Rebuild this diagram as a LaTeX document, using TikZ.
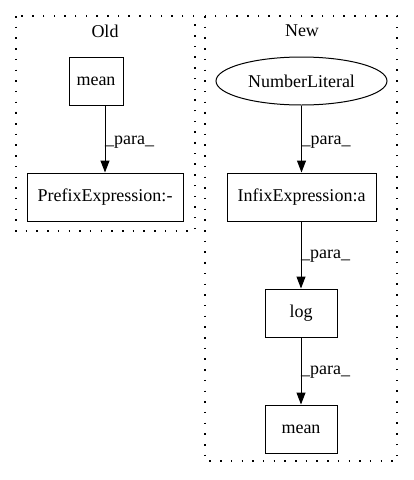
\documentclass[tikz,border=0pt]{standalone}
\usepackage{fontspec}
\setmainfont{Liberation Serif}
\usetikzlibrary{arrows.meta,shapes.geometric}
\begin{document}
\begin{tikzpicture}[x=1pt,y=-1pt,
  every node/.style={font=\fontsize{18}{21}\selectfont},
  box/.style={draw,line width=1pt,rectangle,inner sep=0pt},
  oval/.style={draw,line width=1pt,ellipse,inner sep=0pt},
  cluster/.style={draw,line width=1.4pt,dash pattern=on 1.5pt off 9.2pt},
  edge/.style={line width=1pt,-{Triangle[length=12pt,width=9pt]}},
  lbl/.style={anchor=west,inner sep=0pt}]
\useasboundingbox (0,0) rectangle (413,480);
\draw[cluster] (16,16) rectangle (195,231);
\draw[cluster] (205,16) rectangle (397,461);
\node (oldlbl) at (105,31) {Old};
\node (newlbl) at (302,31) {New};
\node[box,minimum width=54pt,minimum height=48pt] (mean1) at (96,81) {mean};
\node[box,minimum width=156pt,minimum height=48pt] (prefix) at (105,197) {PrefixExpression:-};
\node[oval,minimum width=171pt,minimum height=48pt] (num) at (301.5,81) {NumberLiteral};
\node[box,minimum width=149pt,minimum height=48pt] (infix) at (301.5,197) {InfixExpression:a};
\node[box,minimum width=72pt,minimum height=48pt] (log) at (301,313) {log};
\node[box,minimum width=72pt,minimum height=48pt] (mean2) at (301,429) {mean};
\draw[edge] (mean1.south -| prefix.north) -- (prefix.north);
\draw[edge] (num.south) -- (infix.north);
\draw[edge] (infix.south -| log.north) -- (log.north);
\draw[edge] (log.south) -- (mean2.north);
\node[lbl] (l1) at (105,142) {\_para\_};
\node[lbl] (l2) at (301.5,142) {\_para\_};
\node[lbl] (l3) at (301,256) {\_para\_};
\node[lbl] (l4) at (301,372) {\_para\_};
\end{tikzpicture}
\end{document}
